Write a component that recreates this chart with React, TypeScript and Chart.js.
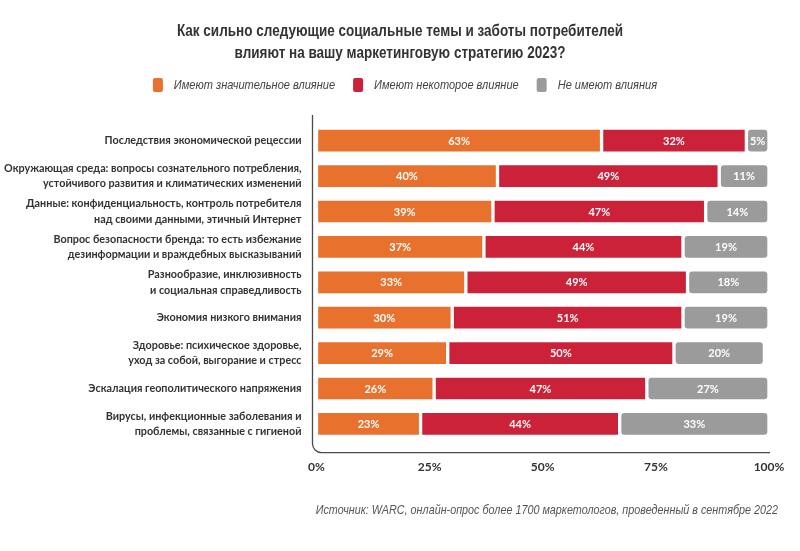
import React, { useEffect, useRef } from "react";
import { Chart, registerables } from "chart.js";

Chart.register(...registerables);

const categories: string[][] = [
  ["Последствия экономической рецессии"],
  ["Окружающая среда: вопросы сознательного потребления,", "устойчивого развития и климатических изменений"],
  ["Данные: конфиденциальность, контроль потребителя", "над своими данными, этичный Интернет"],
  ["Вопрос безопасности бренда: то есть избежание", "дезинформации и враждебных высказываний"],
  ["Разнообразие, инклюзивность", "и социальная справедливость"],
  ["Экономия низкого внимания"],
  ["Здоровье: психическое здоровье,", "уход за собой, выгорание и стресс"],
  ["Эскалация геополитического напряжения"],
  ["Вирусы, инфекционные заболевания и", "проблемы, связанные с гигиеной"],
];

const significant = [63, 40, 39, 37, 33, 30, 29, 26, 23];
const some = [32, 49, 47, 44, 49, 51, 50, 47, 44];
const none = [5, 11, 14, 19, 18, 19, 20, 27, 33];

const seriesNames = ["Имеют значительное влияние", "Имеют некоторое влияние", "Не имеют влияния"];
const xTicks = [0, 25, 50, 75, 100];

const titleLines = [
  "Как сильно следующие социальные темы и заботы потребителей",
  "влияют на вашу маркетинговую стратегию 2023?",
];
const sourceText = "Источник: WARC, онлайн-опрос более 1700 маркетологов, проведенный в сентябре 2022";

const COLORS = ["#E8712E", "#CC2239", "#9B9B9B"];
const SANS = "'Liberation Sans', Arial, sans-serif";
const LABEL_FONT = "Lato, 'Open Sans', sans-serif";

// draws text compressed horizontally (narrow typeface look)
function narrowText(ctx: any, text: string, x: number, y: number, sx: number, align: "left" | "center" | "right") {
  const w = ctx.measureText(text).width * sx;
  let left = x;
  if (align === "center") left = x - w / 2;
  if (align === "right") left = x - w;
  ctx.save();
  ctx.translate(left, y);
  ctx.scale(sx, 1);
  ctx.textAlign = "left";
  ctx.fillText(text, 0, 0);
  ctx.restore();
  return w;
}

const headerFooter = {
  id: "headerFooter",
  afterDraw(chart: any) {
    const { ctx, width } = chart;
    ctx.save();
    ctx.textBaseline = "middle";
    // title
    ctx.fillStyle = "#333333";
    ctx.font = `bold 17px ${SANS}`;
    titleLines.forEach((t, i) => narrowText(ctx, t, width / 2, 31 + i * 22, 0.795, "center"));
    // legend
    ctx.font = `italic 13px ${SANS}`;
    const sx = 0.85;
    const box = 10, gapText = 11, gapItem = 18;
    const widths = seriesNames.map((n) => ctx.measureText(n).width * sx);
    const total = widths.reduce((a, b) => a + b, 0) + seriesNames.length * (box + gapText) + (seriesNames.length - 1) * gapItem;
    let x = 405 - total / 2;
    const ly = 85;
    seriesNames.forEach((n, i) => {
      ctx.fillStyle = COLORS[i];
      ctx.beginPath();
      (ctx as any).roundRect(x, ly - 7, box, 14, 2);
      ctx.fill();
      x += box + gapText;
      ctx.fillStyle = "#444444";
      narrowText(ctx, n, x, ly, sx, "left");
      x += widths[i] + gapItem;
    });
    // source
    ctx.fillStyle = "#555555";
    ctx.font = `italic 13px ${SANS}`;
    narrowText(ctx, sourceText, 778, 510, 0.83, "right");
    ctx.restore();
  },
};

const valueLabels = {
  id: "valueLabels",
  afterDatasetsDraw(chart: any) {
    const ctx = chart.ctx;
    ctx.save();
    ctx.fillStyle = "#ffffff";
    ctx.font = `bold 11px ${LABEL_FONT}`;
    ctx.textAlign = "center";
    ctx.textBaseline = "middle";
    chart.data.datasets.forEach((ds: any, di: number) => {
      const meta = chart.getDatasetMeta(di);
      meta.data.forEach((el: any, i: number) => {
        const cx = (el.x + el.base) / 2;
        ctx.fillText(`${ds.data[i]}%`, cx, el.y + 0.5);
      });
    });
    ctx.restore();
  },
};

const axisFrame = {
  id: "axisFrame",
  afterDraw(chart: any) {
    const { ctx, chartArea } = chart;
    const L = chartArea.left - 4;
    const B = chartArea.bottom + 11;
    const T = chartArea.top - 8;
    const R = chartArea.right + 1;
    const r = 9;
    ctx.save();
    ctx.strokeStyle = "#4a4a4a";
    ctx.lineWidth = 1.3;
    ctx.beginPath();
    ctx.moveTo(L, T);
    ctx.lineTo(L, B - r);
    ctx.arcTo(L, B, L + r, B, r);
    ctx.lineTo(R, B);
    ctx.stroke();
    ctx.restore();
  },
};

export default function App() {
  const ref = useRef<HTMLCanvasElement>(null);
  useEffect(() => {
    if (!ref.current) return;
    const datasets = [significant, some, none].map((d, i) => ({
      label: seriesNames[i],
      data: d,
      backgroundColor: COLORS[i],
      borderColor: "#ffffff",
      borderWidth: 2,
      borderSkipped: false as any,
      borderRadius: 5,
      barThickness: 25,
    }));
    const chart = new Chart(ref.current, {
      type: "bar",
      data: { labels: categories, datasets },
      options: {
        animation: false,
        responsive: true,
        maintainAspectRatio: false,
        indexAxis: "y",
        layout: { padding: { left: -11, right: 31, top: 123, bottom: 59 } },
        plugins: {
          title: { display: false },
          legend: { display: false },
          tooltip: { enabled: false },
        },
        scales: {
          x: {
            stacked: true,
            min: 0,
            max: 100,
            afterBuildTicks: (axis: any) => {
              axis.ticks = xTicks.map((v) => ({ value: v }));
            },
            afterFit: (axis: any) => {
              axis.paddingRight = 0;
              axis.paddingLeft = 0;
            },
            ticks: {
              callback: (v: any) => `${v}%`,
              color: "#333333",
              font: { family: LABEL_FONT, size: 12, weight: "bold" },
              padding: 18,
              maxRotation: 0,
            },
            grid: { display: false, drawTicks: false },
            border: { display: false },
          },
          y: {
            stacked: true,
            ticks: {
              color: "#333333",
              font: { family: LABEL_FONT, size: 10.8, weight: "bold", lineHeight: 1.45 },
              padding: 15,
              autoSkip: false,
            },
            grid: { display: false, drawTicks: false },
            border: { display: false },
          },
        },
      },
      plugins: [valueLabels, axisFrame, headerFooter],
    });
    return () => chart.destroy();
  }, []);
  return (
    <div style={{ position: "fixed", left: 0, top: 0, width: 800, height: 551, background: "#fff" }}>
      <canvas ref={ref} />
    </div>
  );
}
